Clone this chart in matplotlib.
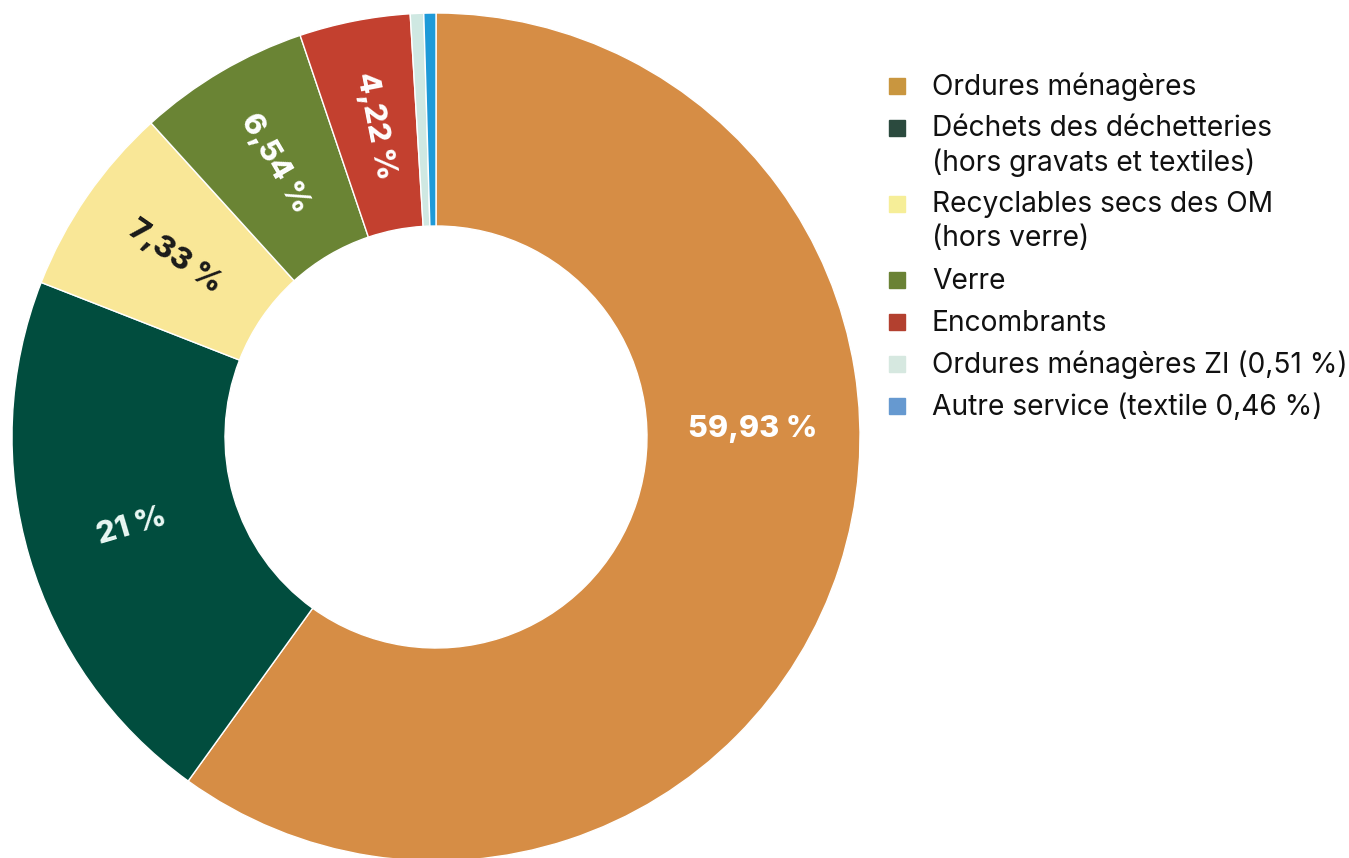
import numpy as np
import matplotlib.pyplot as plt

# donnees
labels = ["Ordures ménagères",
          "Déchets des déchetteries\n(hors gravats et textiles)",
          "Recyclables secs des OM\n(hors verre)",
          "Verre",
          "Encombrants",
          "Ordures ménagères ZI (0,51 %)",
          "Autre service (textile 0,46 %)"]
values = [59.93, 21, 7.33, 6.54, 4.22, 0.51, 0.46]
pct_text = ["59,93 %", "21 %", "7,33 %", "6,54 %", "4,22 %", "", ""]
colors = ["#D68D45", "#014D3E", "#F9E797", "#6A8434", "#C3402F", "#CFE8E2", "#1E9AD8"]
legend_colors = ["#C9963F", "#2B4A3E", "#F6EE98", "#6A8235", "#B3402F", "#D6E8E0", "#6699D0"]
text_colors = ["white", "#EAF8F4", "#1A1A1A", "white", "white", "white", "white"]

plt.rcParams['font.family'] = ['Inter', 'DejaVu Sans']

fig = plt.figure(figsize=(13.49, 8.58), dpi=100)
W, H = 1349, 858
cx, cy, R = 436, 437, 424
ax = fig.add_axes([(cx - R) / W, (H - cy - R) / H, 2 * R / W, 2 * R / H])

inner = 211 / R
wedges, _ = ax.pie(values, colors=colors, startangle=90, counterclock=False,
                   radius=1, wedgeprops=dict(width=1 - inner, edgecolor="white", linewidth=1))
ax.set_xlim(-1, 1)
ax.set_ylim(-1, 1)
ax.set_aspect("equal")
ax.axis("off")

# etiquettes dans l'anneau (orientees selon le rayon)
rmid = 0.748
for i, w in enumerate(wedges):
    if not pct_text[i]:
        continue
    ang = (w.theta1 + w.theta2) / 2
    rot = ang - 180
    if i == 0:
        # la grande part : etiquette horizontale a droite
        ang, rot = 1.5, 0
    x = rmid * np.cos(np.radians(ang))
    y = rmid * np.sin(np.radians(ang))
    ax.text(x, y, pct_text[i], ha="center", va="center", rotation=rot,
            rotation_mode="anchor", fontsize=22, fontweight=800, color=text_colors[i])

# legende
y = 86
for lab, c in zip(labels, legend_colors):
    fig.patches.append(plt.Rectangle((889 / W, 1 - (y + 8) / H), 16 / W, 16 / H,
                                     transform=fig.transFigure, color=c))
    for k, line in enumerate(lab.split("\n")):
        if k > 0:
            y += 34
        fig.text(932 / W, 1 - (y + 1) / H, line, ha="left", va="center",
                 fontsize=20.3, color="#111111")
    y += 42

fig.savefig("out.png", dpi=100)
